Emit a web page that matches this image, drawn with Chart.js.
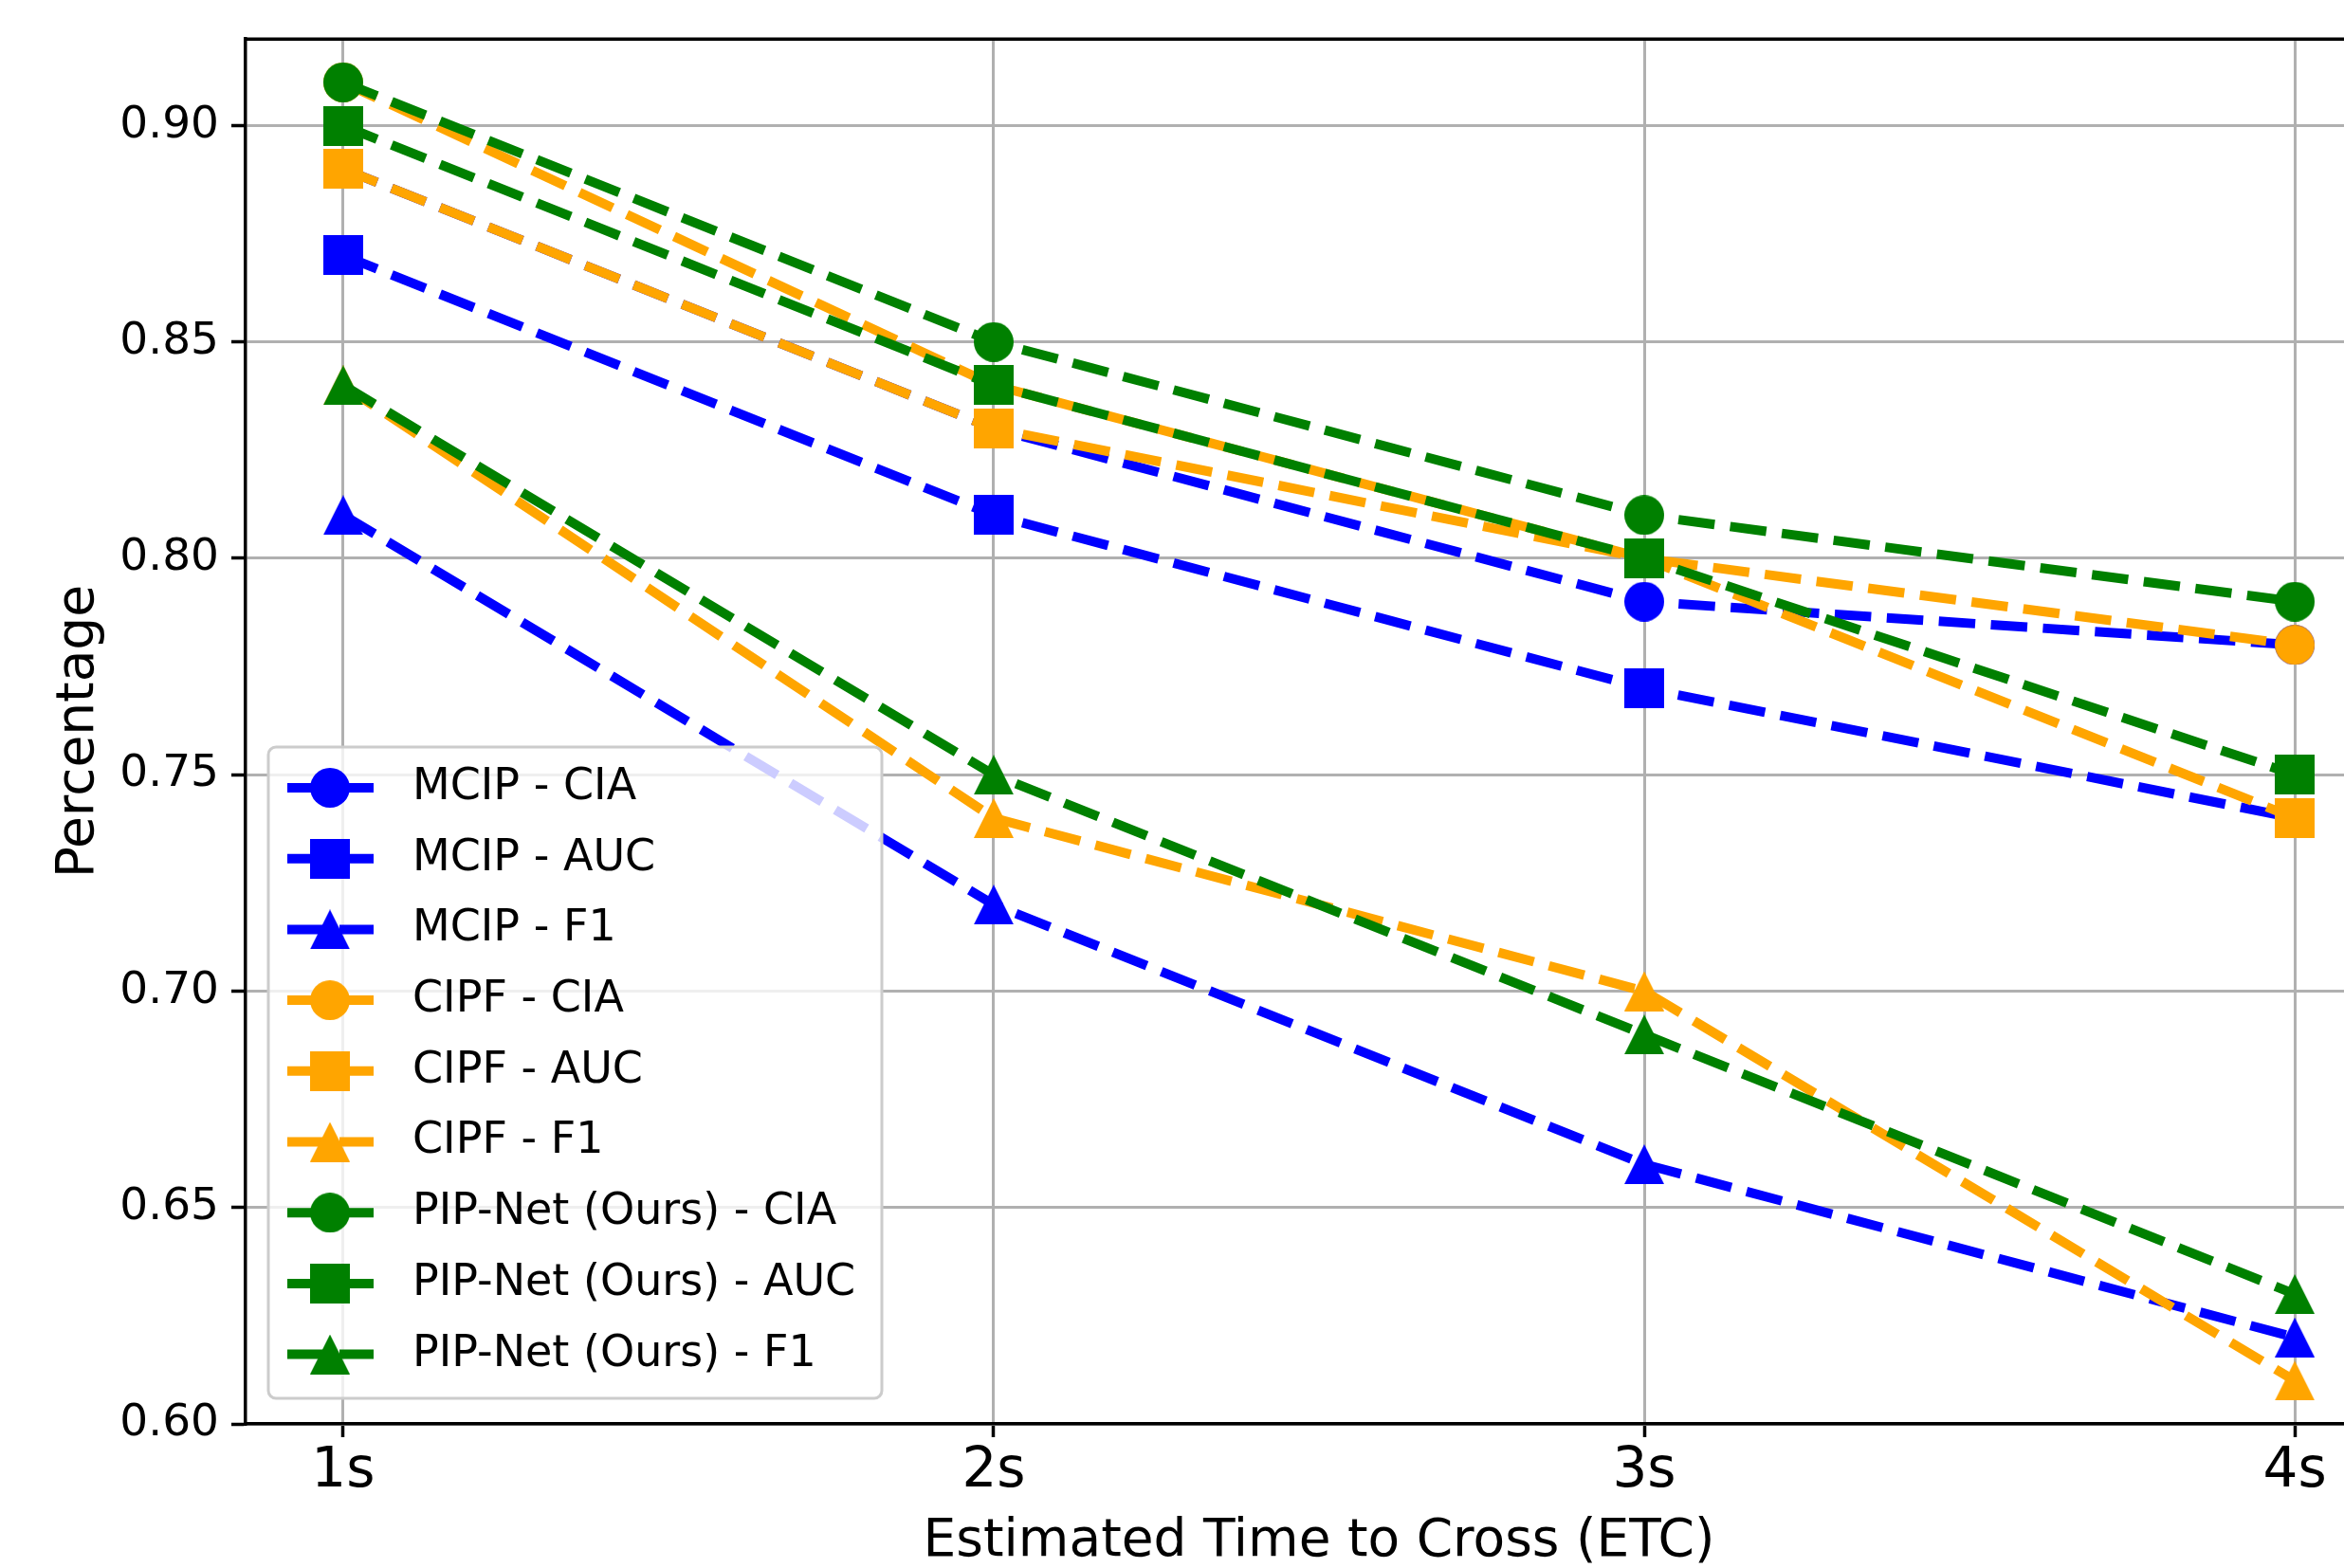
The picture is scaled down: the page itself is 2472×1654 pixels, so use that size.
<!DOCTYPE html>
<html>
<head>
<meta charset="utf-8">
<title>Estimated Time to Cross (ETC)</title>
<script src="https://cdn.jsdelivr.net/npm/chart.js@4.4.1/dist/chart.umd.min.js"></script>
<style>
    html, body { margin: 0; padding: 0; overflow: hidden; background: #ffffff; }
    #wrap { width: 2540px; height: 1654px; }
</style>
</head>
<body>
<div id="wrap"><canvas id="etcChart" width="2540" height="1654"></canvas></div>
<script>
// Categorias e valores
const etcLabels = ['1s', '2s', '3s', '4s'];
const yTickValues = [0.60, 0.65, 0.70, 0.75, 0.80, 0.85, 0.90];

const mcipCia = [0.89, 0.83, 0.79, 0.78];
const mcipAuc = [0.87, 0.81, 0.77, 0.74];
const mcipF1  = [0.81, 0.72, 0.66, 0.62];
const cipfCia = [0.91, 0.84, 0.80, 0.78];
const cipfAuc = [0.89, 0.83, 0.80, 0.74];
const cipfF1  = [0.84, 0.74, 0.70, 0.61];
const pipCia  = [0.91, 0.85, 0.81, 0.79];
const pipAuc  = [0.90, 0.84, 0.80, 0.75];
const pipF1   = [0.84, 0.75, 0.69, 0.63];

const seriesNames = [
    'MCIP - CIA', 'MCIP - AUC', 'MCIP - F1',
    'CIPF - CIA', 'CIPF - AUC', 'CIPF - F1',
    'PIP-Net (Ours) - CIA', 'PIP-Net (Ours) - AUC', 'PIP-Net (Ours) - F1'
];
const seriesValues = [mcipCia, mcipAuc, mcipF1, cipfCia, cipfAuc, cipfF1, pipCia, pipAuc, pipF1];

const COLORS = ['#0000ff', '#0000ff', '#0000ff', '#ffa500', '#ffa500', '#ffa500', '#008000', '#008000', '#008000'];
const SHAPES = ['circle', 'square', 'triangle', 'circle', 'square', 'triangle', 'circle', 'square', 'triangle'];
const MARKER_SIZE = 42;
const LINE_WIDTH = 10;
const DASH = [38.5, 16.5];
const FONT = 'DejaVu Sans';

Chart.defaults.font.family = FONT;
Chart.defaults.color = '#000000';

// Marcadores no estilo do matplotlib (triângulo tão alto quanto largo)
function makeMarker(shape, color) {
    const s = MARKER_SIZE;
    const c = document.createElement('canvas');
    c.width = s;
    c.height = s;
    const g = c.getContext('2d');
    g.fillStyle = color;
    g.beginPath();
    if (shape === 'circle') {
        g.arc(s / 2, s / 2, s / 2, 0, Math.PI * 2);
    } else if (shape === 'square') {
        g.rect(0, 0, s, s);
    } else {
        g.moveTo(s / 2, 0);
        g.lineTo(s, s);
        g.lineTo(0, s);
        g.closePath();
    }
    g.fill();
    return c;
}

const markers = SHAPES.map((shape, i) => makeMarker(shape, COLORS[i]));

const datasets = seriesValues.map((values, i) => ({
    label: seriesNames[i],
    data: values.map((v, k) => ({ x: k, y: v })),
    borderColor: COLORS[i],
    backgroundColor: COLORS[i],
    borderWidth: LINE_WIDTH,
    borderDash: DASH,
    tension: 0,
    fill: false,
    pointStyle: markers[i],
    pointRadius: MARKER_SIZE / 2,
    pointHoverRadius: MARKER_SIZE / 2,
    // a última série fica por cima, como no matplotlib
    order: seriesValues.length - i
}));

// Bordas superior e direita do quadro
const framePlugin = {
    id: 'frame',
    afterDatasetsDraw(chart) {
        const { ctx, chartArea } = chart;
        ctx.save();
        ctx.strokeStyle = '#000000';
        ctx.lineWidth = 3.5;
        ctx.beginPath();
        ctx.moveTo(chartArea.left - 1.75, chartArea.top);
        ctx.lineTo(chartArea.right, chartArea.top);
        ctx.lineTo(chartArea.right, chartArea.bottom);
        ctx.stroke();
        ctx.restore();
    }
};

// Legenda dentro da área do gráfico, canto inferior esquerdo
const legendPlugin = {
    id: 'insideLegend',
    afterDraw(chart) {
        const { ctx, chartArea } = chart;
        const left = chartArea.left + 24;
        const width = 647;
        const height = 687;
        const top = chartArea.bottom - 27 - height;
        const rowGap = 74.7;
        const r = 8;

        ctx.save();
        ctx.beginPath();
        ctx.moveTo(left + r, top);
        ctx.lineTo(left + width - r, top);
        ctx.arcTo(left + width, top, left + width, top + r, r);
        ctx.lineTo(left + width, top + height - r);
        ctx.arcTo(left + width, top + height, left + width - r, top + height, r);
        ctx.lineTo(left + r, top + height);
        ctx.arcTo(left, top + height, left, top + height - r, r);
        ctx.lineTo(left, top + r);
        ctx.arcTo(left, top, left + r, top, r);
        ctx.closePath();
        ctx.fillStyle = 'rgba(255, 255, 255, 0.8)';
        ctx.fill();
        ctx.strokeStyle = '#cccccc';
        ctx.lineWidth = 3;
        ctx.stroke();

        ctx.font = '46px "' + FONT + '"';
        ctx.textBaseline = 'middle';
        ctx.textAlign = 'left';

        seriesNames.forEach((name, i) => {
            const cy = top + 43 + i * rowGap;
            ctx.strokeStyle = COLORS[i];
            ctx.lineWidth = LINE_WIDTH;
            ctx.setLineDash(DASH);
            ctx.beginPath();
            ctx.moveTo(left + 20, cy);
            ctx.lineTo(left + 111, cy);
            ctx.stroke();
            ctx.setLineDash([]);
            ctx.drawImage(markers[i], left + 65 - MARKER_SIZE / 2, cy - MARKER_SIZE / 2);
            ctx.fillStyle = '#000000';
            ctx.fillText(name, left + 152, cy);
        });
        ctx.restore();
    }
};

const gridStyle = {
    color: '#b0b0b0',
    lineWidth: 3,
    drawTicks: true,
    tickColor: '#000000',
    tickWidth: 3.5
};

new Chart(document.getElementById('etcChart'), {
    type: 'line',
    data: { datasets },
    options: {
        responsive: false,
        devicePixelRatio: 1,
        animation: false,
        events: [],
        layout: {
            autoPadding: false,
            padding: { top: 39, right: 17, bottom: 0, left: 0 }
        },
        plugins: {
            legend: { display: false },
            tooltip: { enabled: false }
        },
        scales: {
            x: {
                type: 'linear',
                min: -0.15,
                max: 3.15,
                afterBuildTicks(scale) {
                    scale.ticks = etcLabels.map((_, i) => ({ value: i }));
                },
                afterFit(scale) {
                    scale.height = 152;
                    // sem folga extra para o rótulo "4s"
                    scale.paddingLeft = 0;
                    scale.paddingRight = 0;
                },
                grid: Object.assign({ tickLength: 14 }, gridStyle),
                border: { color: '#000000', width: 3.5 },
                ticks: {
                    callback: (v) => etcLabels[v],
                    font: { size: 58, lineHeight: 1 },
                    color: '#000000',
                    padding: 8,
                    maxRotation: 0,
                    autoSkip: false
                },
                title: {
                    display: true,
                    text: 'Estimated Time to Cross (ETC)',
                    font: { size: 55, lineHeight: 1 },
                    color: '#000000',
                    padding: { top: 0, bottom: 0 }
                }
            },
            y: {
                type: 'linear',
                min: 0.60,
                max: 0.92,
                afterBuildTicks(scale) {
                    scale.ticks = yTickValues.map((v) => ({ value: v }));
                },
                afterFit(scale) {
                    scale.width = 259;
                },
                grid: Object.assign({ tickLength: 15 }, gridStyle),
                border: { color: '#000000', width: 3.5 },
                ticks: {
                    callback: (v) => v.toFixed(2),
                    font: { size: 47 },
                    color: '#000000',
                    padding: 13
                },
                title: {
                    display: true,
                    text: 'Percentage',
                    font: { size: 55, lineHeight: 1 },
                    color: '#000000',
                    padding: { top: 56, bottom: 0 }
                }
            }
        }
    },
    plugins: [framePlugin, legendPlugin]
});
</script>
</body>
</html>
